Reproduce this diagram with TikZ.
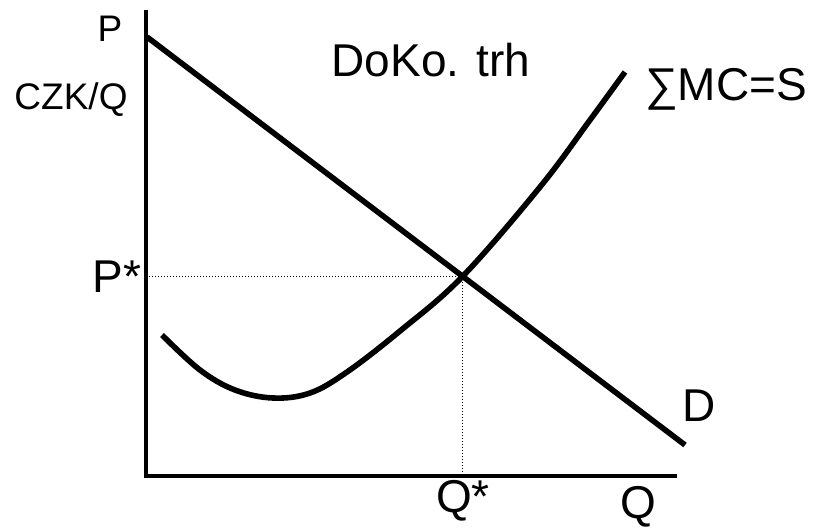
\documentclass[tikz,border=0pt]{standalone}
\usepackage{fontspec}
\setmainfont{Liberation Sans}
\usetikzlibrary{positioning}
\tikzset{
  mkaxis/.style={line width=1.75pt, line cap=rect},
  mkcurve/.style={line width=2.8pt},
  mkguide/.style={line width=0.5pt, dash pattern=on 0.5pt off 1pt},
  mklabel/.style={anchor=base, inner sep=0pt, font=\fontsize{23}{27}\selectfont},
  mksmall/.style={anchor=base, inner sep=0pt, font=\fontsize{18.5}{22}\selectfont}
}

\begin{document}
\begin{tikzpicture}[x=0.5pt, y=-0.5pt]
\useasboundingbox (0,0) rectangle (817,528);
% axes and equilibrium
\coordinate (origin) at (146,476);
\coordinate (ytop) at (146,12);
\coordinate (xend) at (675,476);
\coordinate (eq) at (462,277);
\coordinate (peq) at (origin |- eq);
\coordinate (qeq) at (eq |- origin);
\draw[mkguide] (peq) -- (eq) -- (qeq);
\draw[mkaxis] (ytop) -- (origin) -- (xend);
% demand
\coordinate (dtop) at (147,37);
\coordinate (dend) at (685,445);
\draw[mkcurve] (dtop) -- (dend);
% supply
\draw[mkcurve] plot[smooth, tension=0.6] coordinates {
  (162,335) (200,370) (235,390) (273,398) (310,393) (347,372)
  (400,331) (462,277) (540,187) (590,120) (625,72)};
% labels
\node[mksmall] (plab) at (110,42) {P};
\node[mksmall] (unitlab) at (71,110) {CZK/Q};
\node[mklabel] (pstar) at (117,293) {P*};
\node[mklabel] (title) at (431,77) {DoKo. trh};
\node[mklabel] (supplab) at (726,101) {∑MC=S};
\node[mklabel] (dlab) at (699,421) {D};
\node[mklabel] (qstar) at (463,512) {Q*};
\node[mklabel] (qlab) at (638,518) {Q};
\end{tikzpicture}
\end{document}
